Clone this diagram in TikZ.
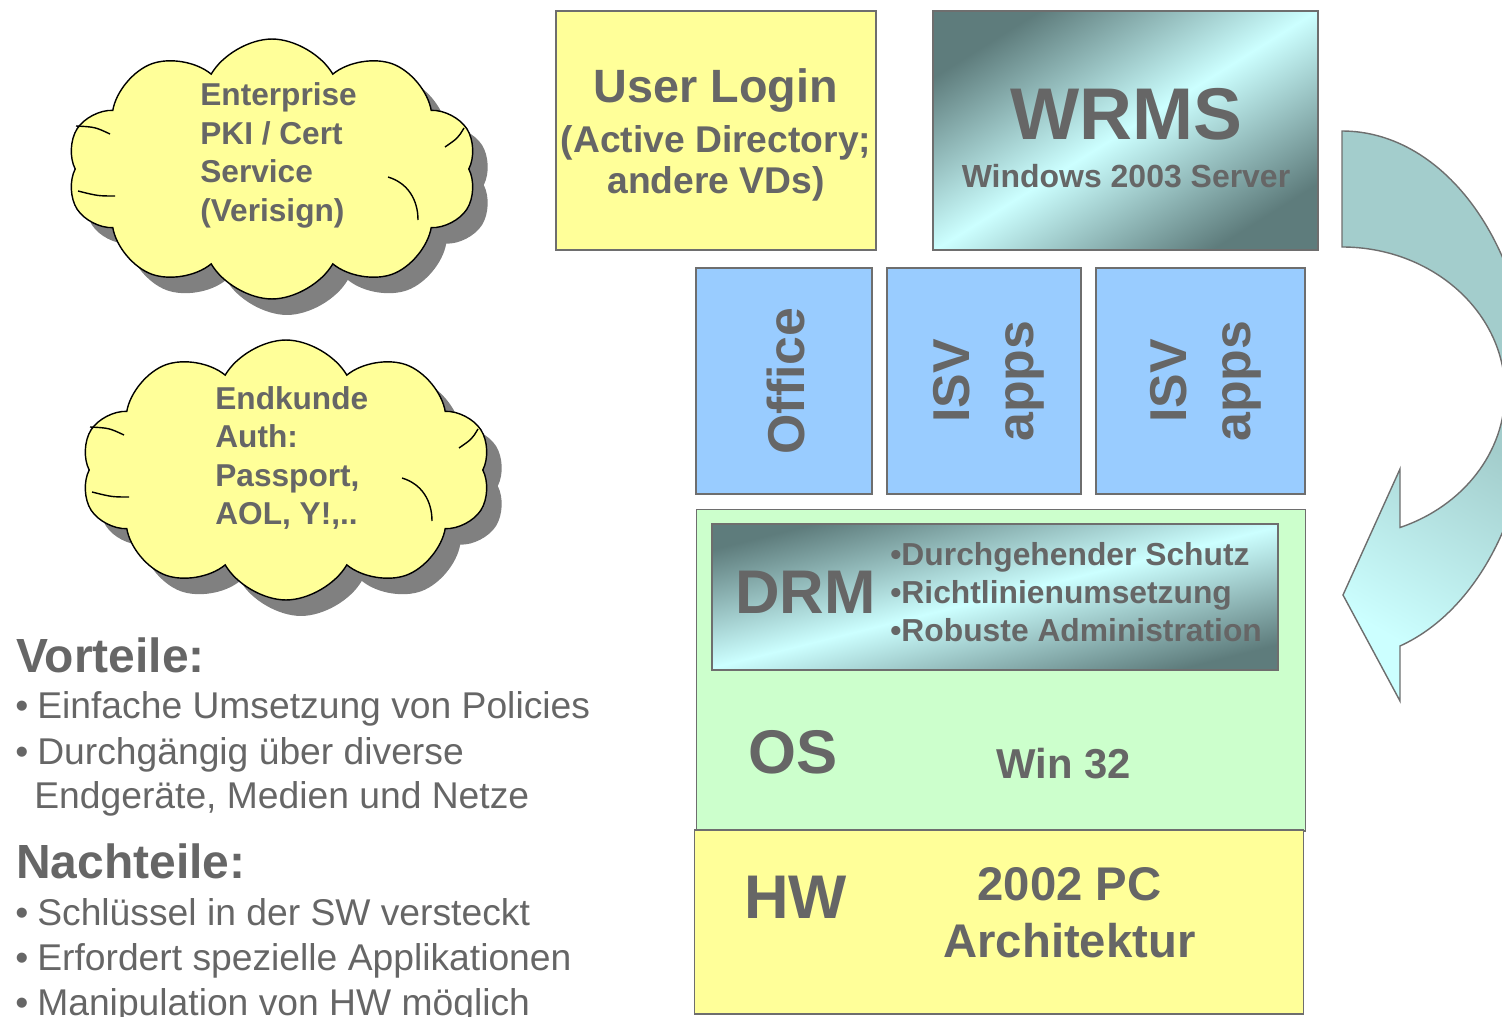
\documentclass[tikz,border=0pt]{standalone}
\usepackage{fontspec}
\setmainfont{Liberation Sans}
\usepackage{tikz}
\usetikzlibrary{shapes.symbols,shadows}
\definecolor{uyellow}{HTML}{FFFF99}
\definecolor{ublue}{HTML}{99CCFF}
\definecolor{ugreen}{HTML}{CCFFCC}
\definecolor{ucyan}{HTML}{CCFFFF}
\definecolor{udark}{HTML}{5E7C7C}
\definecolor{uteal}{HTML}{A3CDCC}
\definecolor{ugray}{HTML}{666666}
\definecolor{uline}{HTML}{6E6E6E}
\definecolor{ushadow}{HTML}{808080}
\newcommand{\fsz}[2]{\fontsize{#1}{#2}\selectfont}

\begin{document}
\begin{tikzpicture}[x=0.02cm,y=-0.02cm,
    box/.style={draw=uline,line width=1pt,inner sep=0pt},
    lbl/.style={text=ugray,inner sep=0pt},
    ctxt/.style={lbl,anchor=base west,font=\bfseries\fsz{18}{22}},
    item/.style={lbl,anchor=base west,font=\fsz{21.2}{25}},
    head/.style={lbl,anchor=base west,font=\bfseries\fsz{27.3}{32}},
    drmitem/.style={lbl,anchor=base west,font=\bfseries\fsz{18.1}{22}},
    cloudy/.style={cloud,cloud puffs=10,cloud puff arc=120,cloud ignores aspect,
        draw=black,line width=0.8pt,fill=uyellow,minimum width=8.2cm,minimum height=5.2cm,
        drop shadow={shadow xshift=0.3cm,shadow yshift=-0.32cm,fill=ushadow,opacity=1}},
    puff/.style={draw=black,line width=0.8pt}]
    % page frame
    \useasboundingbox (0,0) rectangle (1502,1017);
    \clip (0,0) rectangle (1502,1017);

    % clouds, with the inner puff lines
    \foreach \dx/\dy/\nm in {0/0/pki,14/301/auth}{
        \node[cloudy] (\nm) at (272+\dx,169+\dy) {};
        \draw[puff] (388+\dx,177+\dy) .. controls (408+\dx,183+\dy) and (418+\dx,200+\dy) .. (418+\dx,220+\dy);
        \draw[puff] (464+\dx,128+\dy) .. controls (458+\dx,138+\dy) .. (445+\dx,147+\dy);
        \draw[puff] (76+\dx,126+\dy) .. controls (95+\dx,127+\dy) .. (110+\dx,134+\dy);
        \draw[puff] (78+\dx,191+\dy) .. controls (98+\dx,196+\dy) .. (115+\dx,196+\dy);
    }
    \foreach \t [count=\i] in {Enterprise,PKI / Cert,Service,{(Verisign)}}
        \node[ctxt] (pki\i) at (200,67.5+38.5*\i) {\t};
    \foreach \t [count=\i] in {Endkunde,Auth:,{Passport,},{AOL, Y!,..}}
        \node[ctxt] (auth\i) at (215,370.5+38.5*\i) {\t};

    % top row
    \node[box,fill=uyellow,minimum width=6.4cm,minimum height=4.78cm] (login) at (716,130.5) {};
    \node[lbl,anchor=base,font=\bfseries\fsz{26.6}{32}] (logintitle) at (716,103) {User Login};
    \node[lbl,anchor=base,font=\bfseries\fsz{21.2}{25}] (loginsub) at (716,153) {(Active Directory;};
    \node[lbl,anchor=base,font=\bfseries\fsz{21.2}{25}] (loginsubb) at (716,194) {andere VDs)};

    \node[box,top color=udark,bottom color=udark,middle color=ucyan,shading angle=32,
        minimum width=7.7cm,minimum height=4.78cm] (wrms) at (1125.5,130.5) {};
    \node[lbl,anchor=base,font=\bfseries\fsz{41.7}{50}] (wrmstitle) at (1126,140) {WRMS};
    \node[lbl,anchor=base,font=\bfseries\fsz{18.2}{22}] (wrmssub) at (1126,188) {Windows 2003 Server};

    % applications
    \node[box,fill=ublue,minimum width=3.52cm,minimum height=4.52cm] (office) at (784,381) {};
    \node[lbl,rotate=90,font=\bfseries\fsz{29.5}{36.3}] (officetxt) at (786,381) {Office};
    \node[box,fill=ublue,minimum width=3.88cm,minimum height=4.52cm] (isvA) at (984,381) {};
    \node[lbl,rotate=90,align=center,font=\bfseries\fsz{29.5}{36.3}] (isvAtxt) at (989,381) {ISV\\apps};
    \node[box,fill=ublue,minimum width=4.18cm,minimum height=4.52cm] (isvB) at (1200.5,381) {};
    \node[lbl,rotate=90,align=center,font=\bfseries\fsz{29.5}{36.3}] (isvBtxt) at (1206,381) {ISV\\apps};

    % OS with DRM, hardware
    \node[box,line width=0.6pt,fill=ugreen,minimum width=12.2cm,minimum height=6.44cm] (os) at (1001,670) {};
    \node[box,top color=udark,bottom color=udark,middle color=ucyan,shading angle=14,
        minimum width=11.32cm,minimum height=2.92cm] (drm) at (995,597) {};
    \node[lbl,anchor=base west,font=\bfseries\fsz{35.1}{42}] (drmtxt) at (735,613) {DRM};
    \node[drmitem] (drm1) at (890,565) {•Durchgehender Schutz};
    \node[drmitem] (drm2) at (890,603) {•Richtlinienumsetzung};
    \node[drmitem] (drm3) at (890,641) {•Robuste Administration};
    \node[lbl,anchor=base west,font=\bfseries\fsz{35.1}{42}] (ostxt) at (748,773) {OS};
    \node[lbl,anchor=base,font=\bfseries\fsz{23.8}{28}] (wintxt) at (1063.5,778) {Win 32};

    \node[box,line width=0.6pt,fill=uyellow,minimum width=12.2cm,minimum height=3.68cm] (hw) at (999,922) {};
    \node[lbl,anchor=base west,font=\bfseries\fsz{35.1}{42}] (hwtxt) at (744,918) {HW};
    \node[lbl,anchor=base,font=\bfseries\fsz{26.9}{32}] (pcA) at (1069.5,900) {2002 PC};
    \node[lbl,anchor=base,font=\bfseries\fsz{26.9}{32}] (pcB) at (1069.5,957) {Architektur};

    % curved arrow
    \draw[draw=uline,line width=0.8pt,top color=uteal,bottom color=ucyan,middle color=uteal,shading angle=-30]
        (1342,131) .. controls (1446,131) and (1530,249) .. (1530,395)
        .. controls (1530,509) and (1477.6,610.8) .. (1400,646)
        -- (1400,701) -- (1343,595) -- (1400,469) -- (1400,527.5)
        .. controls (1463.2,506.1) and (1505,452.2) .. (1505,392)
        .. controls (1505,312) and (1432,247) .. (1342,247) -- cycle;

    % pros and cons
    \node[head] (vor) at (16,672) {Vorteile:};
    \node[item] (vorA) at (15,718) {\makebox[12.5pt][l]{•}Einfache Umsetzung von Policies};
    \node[item] (vorB) at (15,764) {\makebox[12.5pt][l]{•}Durchgängig über diverse};
    \node[item] (vorC) at (34,808) {Endgeräte, Medien und Netze};
    \node[head] (nach) at (16,878) {Nachteile:};
    \node[item] (nachA) at (15,925) {\makebox[12.5pt][l]{•}Schlüssel in der SW versteckt};
    \node[item] (nachB) at (15,970) {\makebox[12.5pt][l]{•}Erfordert spezielle Applikationen};
    \node[item] (nachC) at (15,1015) {\makebox[12.5pt][l]{•}Manipulation von HW möglich};
\end{tikzpicture}
\end{document}
